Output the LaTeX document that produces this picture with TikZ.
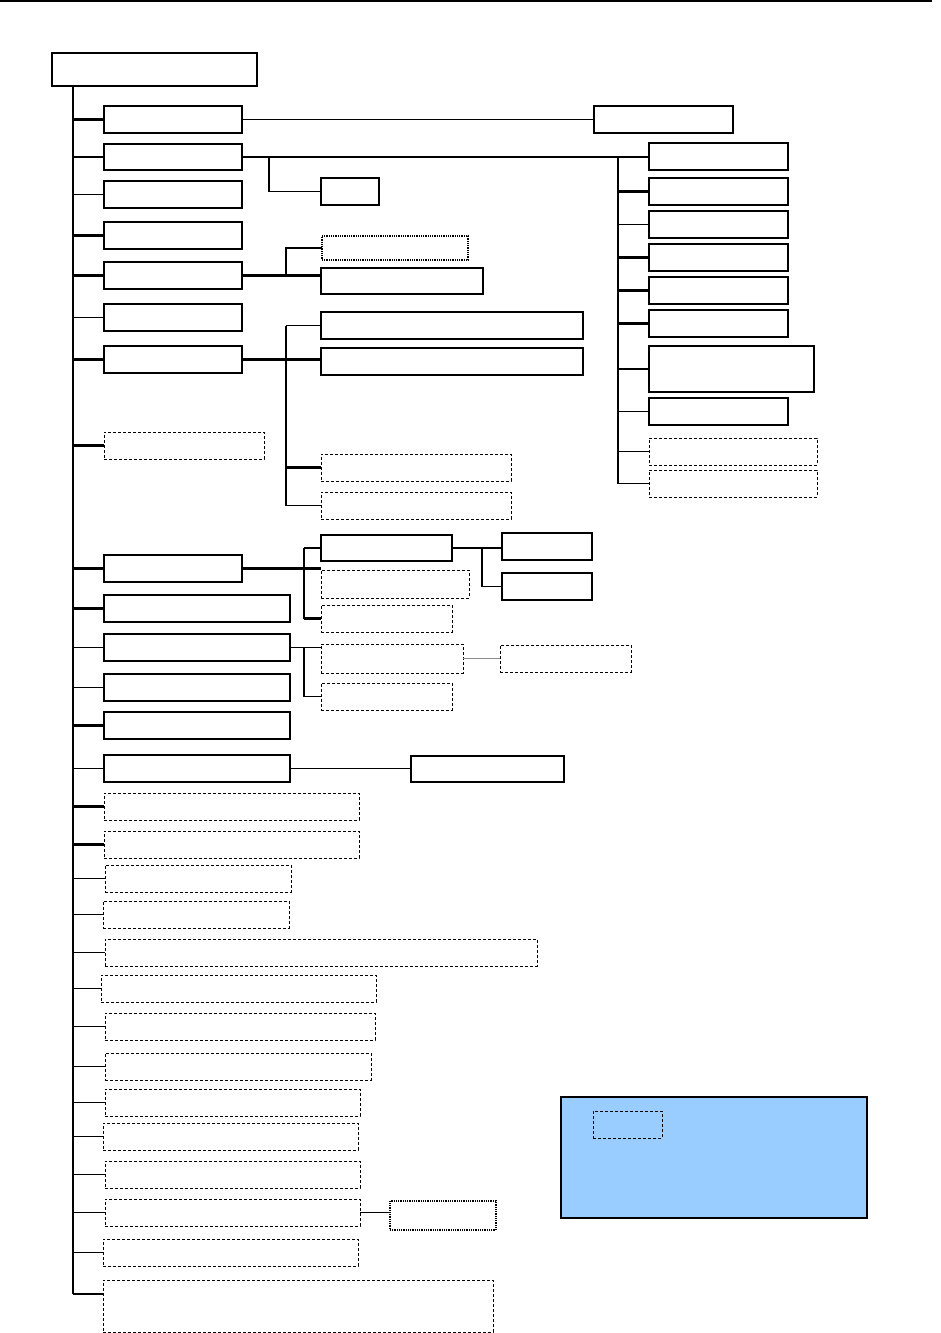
\documentclass[tikz,border=0pt]{standalone}
\definecolor{legendblue}{HTML}{99CCFF}
\tikzset{
  solidbox/.style={draw, line width=1.1pt, inner sep=0pt, outer sep=0pt},
  dashbox/.style={draw, line width=1pt, dash pattern=on 3pt off 2pt, inner sep=0pt, outer sep=0pt},
  dotbox/.style={draw, line width=1.4pt, dash pattern=on 1pt off 0.8pt, inner sep=0pt, outer sep=0pt},
  thinline/.style={line width=1.1pt},
  thickline/.style={line width=2.4pt},
  grayline/.style={line width=1.8pt, black!45},
  legendbox/.style={draw, line width=2.2pt, fill=legendblue, inner sep=0pt, outer sep=0pt}
}
\newcommand\bx[6]{\node[#6, minimum width={(#4-#2)*1pt}, minimum height={(#5-#3)*1pt}] (#1) at ({(#2+#4)/2},{(#3+#5)/2}) {};}
\begin{document}
\begin{tikzpicture}[x=1pt,y=-1pt]
\useasboundingbox (0,0) rectangle (941,1333);
\draw[line width=1.1pt] (0,1) -- (932,1);
% root
\bx{root}{52}{53}{257}{86}{solidbox}
\coordinate (tt) at (73,86);
\coordinate (tb) at (73,1294);
\draw[thinline] (tt) -- (tb);
% level 1
\bx{b1}{104}{106}{242}{133}{solidbox}
\bx{b2}{104}{144}{242}{170}{solidbox}
\bx{b3}{104}{181}{242}{208}{solidbox}
\bx{b4}{104}{222}{242}{249}{solidbox}
\bx{b5}{104}{262}{242}{289}{solidbox}
\bx{b6}{104}{304}{242}{331}{solidbox}
\bx{b7}{104}{346}{242}{373}{solidbox}
\bx{b8}{104}{432}{264}{459}{dashbox}
\bx{b9}{104}{555}{242}{582}{solidbox}
\bx{b10}{104}{595}{290}{622}{solidbox}
\bx{b11}{104}{634}{290}{661}{solidbox}
\bx{b12}{104}{674}{290}{701}{solidbox}
\bx{b13}{104}{712}{290}{739}{solidbox}
\bx{b14}{104}{755}{290}{782}{solidbox}
\bx{d15}{104}{793}{359}{820}{dashbox}
\bx{d16}{104}{831}{359}{858}{dashbox}
\bx{d17}{105}{865}{291}{892}{dashbox}
\bx{d18}{103}{901}{289}{928}{dashbox}
\bx{d19}{105}{939}{537}{966}{dashbox}
\bx{d20}{101}{975}{376}{1002}{dashbox}
\bx{d21}{105}{1013}{375}{1040}{dashbox}
\bx{d22}{105}{1053}{371}{1080}{dashbox}
\bx{d23}{105}{1089}{360}{1116}{dashbox}
\bx{d24}{103}{1123}{358}{1150}{dashbox}
\bx{d25}{105}{1161}{360}{1188}{dashbox}
\bx{d26}{105}{1199}{360}{1226}{dashbox}
\bx{d27}{103}{1239}{358}{1266}{dashbox}
\bx{d28}{103}{1280}{493}{1332}{dashbox}
% trunk connectors
\foreach \n in {b1,b4,b5,b7,b8,b9,b10,b13,d15,d16}
  \draw[thickline] (tt |- \n.west) -- (\n.west);
\foreach \n in {b2,b3,b6,b11,b12,b14,d17,d18,d19,d20,d21,d22,d23,d24,d25,d26,d27}
  \draw[thinline] (tt |- \n.west) -- (\n.west);
\draw[thinline] (tb) -- (tb -| d28.west);
% b1 branch
\bx{w}{594}{106}{733}{133}{solidbox}
\draw[thinline] (b1.east) -- (b1.east -| w.west);
% b2 branch: right column
\bx{r1}{649}{143}{788}{170}{solidbox}
\bx{r2}{649}{178}{788}{205}{solidbox}
\bx{r3}{649}{211}{788}{238}{solidbox}
\bx{r4}{649}{244}{788}{271}{solidbox}
\bx{r5}{649}{277}{788}{304}{solidbox}
\bx{r6}{649}{310}{788}{337}{solidbox}
\bx{r7}{649}{346}{814}{392}{solidbox}
\bx{r8}{649}{398}{788}{425}{solidbox}
\bx{r9}{649}{438}{817}{465}{dashbox}
\bx{r10}{649}{470}{817}{497}{dashbox}
\bx{s1}{321}{178}{379}{205}{solidbox}
\draw[thickline] (b2.east) -- (b2.east -| r1.west);
\coordinate (jr) at (618,0);
\coordinate (j2) at (269,0);
\draw[thinline] (jr |- b2.east) -- (jr |- r10.west);
\foreach \n in {r2,r4,r5,r6}
  \draw[thickline] (jr |- \n.west) -- (\n.west);
\foreach \n in {r3,r7,r8,r9,r10}
  \draw[thinline] (jr |- \n.west) -- (\n.west);
\draw[thinline] (j2 |- b2.east) |- (s1.west);
% b5 branch
\bx{m1}{322}{236}{468}{260}{dotbox}
\bx{m2}{321}{268}{483}{294}{solidbox}
\coordinate (j5) at (286,0);
\draw[thickline] (b5.east) -- (b5.east -| m2.west);
\draw[thickline] (j5 |- b5.east) |- (m1.west);
% b7 branch
\bx{n1}{321}{312}{583}{339}{solidbox}
\bx{n2}{321}{348}{583}{375}{solidbox}
\bx{n3}{321}{454}{511}{481}{dashbox}
\bx{n4}{321}{492}{511}{519}{dashbox}
\coordinate (j7) at (286,0);
\draw[thickline] (b7.east) -- (b7.east -| n2.west);
\draw[thinline] (j7 |- n1.west) -- (j7 |- n4.west);
\draw[thinline] (j7 |- n1.west) -- (n1.west);
\draw[thickline] (j7 |- n3.west) -- (n3.west);
\draw[thinline] (j7 |- n4.west) -- (n4.west);
% b9 branch
\bx{p1}{321}{535}{452}{561}{solidbox}
\bx{p2}{321}{570}{469}{598}{dashbox}
\bx{p3}{321}{605}{452}{632}{dashbox}
\bx{q1}{502}{533}{592}{560}{solidbox}
\bx{q2}{502}{573}{592}{600}{solidbox}
\coordinate (j9) at (304,0);
\coordinate (jq) at (482,0);
\draw[thickline] (b9.east) -- (b9.east -| p2.west);
\draw[thinline] (j9 |- p1.west) -- (j9 |- p3.west);
\draw[thinline] (j9 |- p1.west) -- (p1.west);
\draw[thickline] (j9 |- p3.west) -- (p3.west);
\draw[thinline] (p1.east) -- (p1.east -| q1.west);
\draw[thickline] (jq |- p1.east) -- (jq |- q2.west);
\draw[thinline] (jq |- q2.west) -- (q2.west);
% b11 branch
\bx{u1}{321}{644}{463}{673}{dashbox}
\bx{u2}{321}{683}{452}{710}{dashbox}
\bx{u3}{500}{645}{631}{672}{dashbox}
\coordinate (j11) at (304,0);
\draw[thinline] (b11.east) -- (b11.east -| u1.west);
\draw[thinline] (j11 |- b11.east) |- (u2.west);
\draw[grayline] (u1.east) -- (u1.east -| u3.west);
% b14 branch
\bx{v}{411}{756}{564}{782}{solidbox}
\draw[thinline] (b14.east) -- (b14.east -| v.west);
% d26 branch
\bx{x}{390}{1201}{496}{1230}{dotbox}
\draw[thinline] (d26.east) -- (d26.east -| x.west);
% legend
\bx{leg}{561}{1097}{867}{1218}{legendbox}
\bx{legd}{593}{1111}{662}{1138}{dashbox}
\end{tikzpicture}
\end{document}
